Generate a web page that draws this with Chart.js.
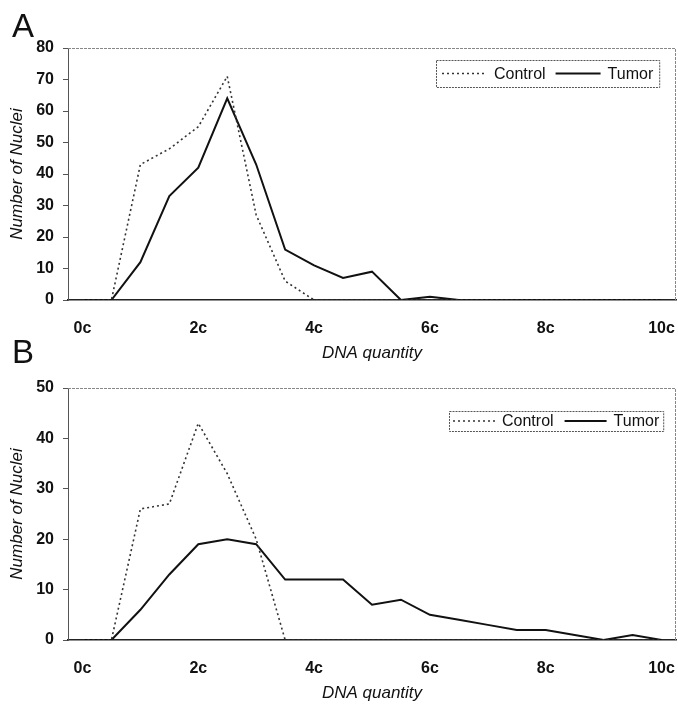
<!DOCTYPE html>
<html>
<head>
<meta charset="utf-8">
<title>DNA quantity</title>
<script src="https://cdn.jsdelivr.net/npm/chart.js@4.4.1/dist/chart.umd.min.js"></script>
<style>
  html, body { margin: 0; padding: 0; background: #ffffff; }
  #wrap { position: relative; width: 678px; height: 705px; overflow: hidden; }
  .panel { position: absolute; left: 0; width: 678px; }
  #panelA { top: 0; height: 365px; }
  #panelB { top: 330px; height: 375px; }
</style>
</head>
<body>
<div id="wrap">
  <div class="panel" id="panelA"><canvas id="chartA" width="678" height="365"></canvas></div>
  <div class="panel" id="panelB"><canvas id="chartB" width="678" height="375"></canvas></div>
</div>
<script>
// categories: DNA content in half-c steps
const dnaCategories = ['0c', '0.5c', '1c', '1.5c', '2c', '2.5c', '3c', '3.5c', '4c', '4.5c', '5c',
    '5.5c', '6c', '6.5c', '7c', '7.5c', '8c', '8.5c', '9c', '9.5c', '10c'];
const xTickLabels = ['0c', '2c', '4c', '6c', '8c', '10c'];

// panel A
const controlA = [0, 0, 43, 48, 55, 71, 27, 6, 0, 0, 0, 0, 0, 0, 0, 0, 0, 0, 0, 0, 0];
const tumorA   = [0, 0, 12, 33, 42, 64, 43, 16, 11, 7, 9, 0, 1, 0, 0, 0, 0, 0, 0, 0, 0];

// panel B
const controlB = [0, 0, 26, 27, 43, 33, 20, 0, 0, 0, 0, 0, 0, 0, 0, 0, 0, 0, 0, 0, 0];
const tumorB   = [0, 0, 6, 13, 19, 20, 19, 12, 12, 12, 7, 8, 5, 4, 3, 2, 2, 1, 0, 1, 0];

const FONT = '"Liberation Sans", Arial, Helvetica, sans-serif';

Chart.defaults.font.family = FONT;
Chart.defaults.color = '#111111';

// big panel letter (A / B)
const panelLetterPlugin = {
    id: 'panelLetter',
    afterDraw(chart, args, opts) {
        const ctx = chart.ctx;
        ctx.save();
        ctx.fillStyle = '#111111';
        ctx.font = `${opts.size}px ${FONT}`;
        ctx.textBaseline = 'alphabetic';
        ctx.textAlign = 'left';
        ctx.fillText(opts.text, opts.x, opts.y);
        ctx.restore();
    }
};

// light dotted frame on top and right of the plot area
const plotFramePlugin = {
    id: 'plotFrame',
    beforeDatasetsDraw(chart) {
        const {ctx, chartArea: a} = chart;
        ctx.save();
        ctx.strokeStyle = '#888888';
        ctx.lineWidth = 1;
        ctx.setLineDash([3, 1]);
        ctx.beginPath();
        ctx.moveTo(a.left, a.top + 0.5);
        ctx.lineTo(a.right - 0.5, a.top + 0.5);
        ctx.lineTo(a.right - 0.5, a.bottom);
        ctx.stroke();
        ctx.restore();
    }
};

// boxed legend inside the plot, Excel style
const boxLegendPlugin = {
    id: 'boxLegend',
    afterDraw(chart, args, opts) {
        const ctx = chart.ctx;
        const cy = opts.top + opts.height / 2;
        const sets = chart.data.datasets;
        let x = opts.left + opts.pad;

        ctx.save();
        ctx.font = `16px ${FONT}`;
        ctx.textBaseline = 'middle';
        ctx.textAlign = 'left';
        sets.forEach((ds, i) => {
            ctx.strokeStyle = ds.borderColor;
            ctx.lineWidth = ds.borderWidth;
            ctx.setLineDash(ds.borderDash || []);
            ctx.beginPath();
            ctx.moveTo(x, cy);
            ctx.lineTo(x + opts.sample, cy);
            ctx.stroke();
            x += opts.sample + opts.gap;
            ctx.fillStyle = '#111111';
            ctx.fillText(ds.label, x, cy + 1);
            x += ctx.measureText(ds.label).width + (i < sets.length - 1 ? opts.itemGap : opts.pad);
        });

        ctx.strokeStyle = '#555555';
        ctx.lineWidth = 1;
        ctx.setLineDash([2, 1]);
        ctx.strokeRect(opts.left + 0.5, opts.top + 0.5, x - opts.left, opts.height);
        ctx.restore();
    }
};

function createPanel(canvasId, letter, control, tumor, yMax, topPad, legendBox) {
    const ctx = document.getElementById(canvasId).getContext('2d');

    return new Chart(ctx, {
        type: 'line',
        data: {
            labels: dnaCategories,
            datasets: [{
                label: 'Control',
                data: control,
                borderColor: '#333333',
                borderWidth: 1.6,
                borderDash: [2, 3],
                pointRadius: 0,
                tension: 0,
                fill: false
            }, {
                label: 'Tumor',
                data: tumor,
                borderColor: '#111111',
                borderWidth: 2,
                pointRadius: 0,
                tension: 0,
                fill: false
            }]
        },
        options: {
            responsive: false,
            animation: false,
            events: [],
            layout: {
                padding: { top: topPad, right: 2, left: 0, bottom: 0 }
            },
            scales: {
                x: {
                    type: 'category',
                    offset: true,
                    grid: { display: false },
                    border: { color: '#222222', width: 1.5 },
                    ticks: {
                        autoSkip: false,
                        maxRotation: 0,
                        padding: 11,
                        color: '#111111',
                        font: { size: 16, weight: 'bold' },
                        callback: function (value, index) {
                            const lab = dnaCategories[index];
                            return xTickLabels.includes(lab) ? lab : null;
                        }
                    },
                    title: {
                        display: true,
                        text: 'DNA quantity',
                        color: '#111111',
                        font: { size: 17, style: 'italic' },
                        padding: { top: 0, bottom: 2 }
                    },
                    afterFit: function (scale) {
                        scale.height = 65;
                        scale.paddingLeft = 0;
                        scale.paddingRight = 0;
                    }
                },
                y: {
                    min: 0,
                    max: yMax,
                    grid: {
                        drawOnChartArea: false,
                        drawTicks: true,
                        tickLength: 5,
                        color: '#555555'
                    },
                    border: { color: '#555555', width: 1 },
                    ticks: {
                        stepSize: 10,
                        padding: 9,
                        color: '#111111',
                        font: { size: 16, weight: 'bold' }
                    },
                    title: {
                        display: true,
                        text: 'Number of Nuclei',
                        color: '#111111',
                        font: { size: 17, style: 'italic' },
                        padding: { top: 7, bottom: 0 }
                    },
                    afterFit: function (scale) {
                        scale.width = 68;
                    }
                }
            },
            plugins: {
                legend: { display: false },
                tooltip: { enabled: false },
                panelLetter: { text: letter, x: 12, y: letter === 'A' ? 37 : 33, size: 33 },
                boxLegend: legendBox
            }
        },
        plugins: [plotFramePlugin, boxLegendPlugin, panelLetterPlugin]
    });
}

const chartA = createPanel('chartA', 'A', controlA, tumorA, 80, 48,
    { left: 436, top: 60, height: 27, pad: 6, sample: 45, gap: 7, itemGap: 10 });
const chartB = createPanel('chartB', 'B', controlB, tumorB, 50, 58,
    { left: 449, top: 81, height: 20, pad: 4, sample: 42, gap: 7, itemGap: 11 });
</script>
</body>
</html>
